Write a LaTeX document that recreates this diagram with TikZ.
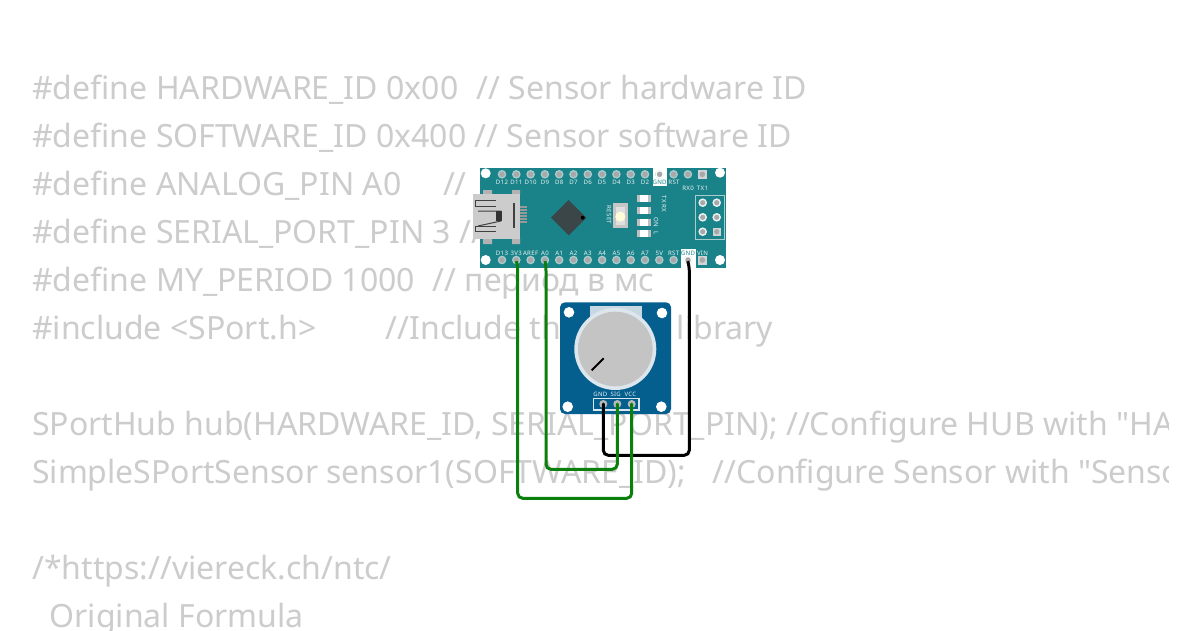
\documentclass[tikz,border=0pt]{standalone}
\usepackage{fontspec}
\setmainfont{Noto Sans}[Ligatures=TeXOff]
\newfontfamily\pinfont{Noto Sans}[LetterSpace=5,Ligatures=TeXOff]
\definecolor{codegray}{HTML}{CCCCCC}
\definecolor{nanoteal}{HTML}{1A8389}
\definecolor{potblue}{HTML}{045F8F}
\definecolor{wiregreen}{HTML}{0B7F0B}
\definecolor{pinlabel}{HTML}{EAF2F2}
\definecolor{pinring}{HTML}{A9CDCF}
\definecolor{pincore}{HTML}{A8A8A8}
\definecolor{squarepad}{HTML}{D0D4D4}
\definecolor{chipgray}{HTML}{3A4648}
\definecolor{knobring}{HTML}{DCE6EC}
\definecolor{knobtab}{HTML}{C8D8E2}
\definecolor{knobface}{HTML}{C4C4C4}
\tikzset{
 codeline/.style={anchor=base west,inner sep=0,text=codegray,font=\fontsize{32}{32}\selectfont},
 toplabel/.style={anchor=center,inner sep=0,text=pinlabel,font=\pinfont\fontsize{6.1}{6.1}\selectfont\bfseries},
 gndlabel/.style={toplabel,text=nanoteal},
 potlabel/.style={toplabel,font=\pinfont\fontsize{6}{6}\selectfont},
 hole/.style={fill=white,draw=none},
 wire/.style={line width=3pt,rounded corners=5pt,line cap=round},
 pad/.style={circle,inner sep=0,minimum size=8pt,fill=#1}
}
\begin{document}
\begin{tikzpicture}[x=1pt,y=-1pt]
\useasboundingbox (0,0) rectangle (1200,630);
\fill[white] (0,0) rectangle (1200,630);
\begin{scope}
\clip (0,0) rectangle (1168,630);
\node[codeline] (l1) at (32,99.5) {\#define HARDWARE\_ID 0x00\ \ \hspace{1.7pt}// Sensor hardware ID};
\node[codeline] (l2) at (32,147.5) {\#define SOFTWARE\_ID 0x400 // Sensor software ID};
\node[codeline] (l3) at (32,195.5) {\#define ANALOG\_PIN A0\ \ \ \ \ //};
\node[codeline] (l4) at (32,243.5) {\#define SERIAL\_PORT\_PIN 3 //};
\node[codeline] (l5) at (32,291.5) {\#define MY\_PERIOD 1000\ \ \hspace{1pt}// период в мс};
\node[codeline] (l6) at (32,339.5) {\#include <SPort.h>\ \ \ \ \ \ \ \ \hspace{3pt}//Include the SPort library};
\node[codeline] (l7) at (32,435.5) {SPortHub hub(HARDWARE\_ID, SERIAL\_PORT\_PIN); //Configure HUB with "HARDWARE\_ID"};
\node[codeline] (l8) at (32,483.5) {SimpleSPortSensor sensor1(SOFTWARE\_ID);\ \ \ \hspace{2pt}//Configure Sensor with "Sensor"};
\node[codeline] (l9) at (32,579.5) {/*https://viereck.ch/ntc/};
\node[codeline] (l10) at (49.5,627.5) {Original Formula};
\end{scope}
% nano board
\fill[nanoteal] (480,167.5) rectangle (725.5,267.5);
\foreach \p in {(485.7,173.3),(720,172.7),(485.7,260),(720,260)} \fill[hole] \p circle (5);
\fill[white] (652.7,168) rectangle (666.7,186);
\fill[white] (681,249) rectangle (695.7,267.5);
\foreach \i in {0,...,14} {
 \pgfmathsetmacro\xx{502+14.3*\i}
 \fill[pinring] (\xx,174.3) circle (4.3);
 \fill[pincore] (\xx,174.3) circle (2.8);
 \fill[pinring] (\xx,260) circle (4.3);
 \fill[pincore] (\xx,260) circle (2.8);
}
\fill[squarepad] (697.8,169.8) rectangle (706.8,178.8);
\fill[pincore] (702.3,174.3) circle (2.8);
\fill[squarepad] (697.8,255.5) rectangle (706.8,264.5);
\fill[pincore] (702.3,260) circle (2.8);
\fill[white] (659.6,174.3) circle (4.3); \fill[pincore] (659.6,174.3) circle (2.8);
\fill[white] (688,260) circle (4.3); \fill[pincore] (688,260) circle (2.8);
\foreach \t [count=\i from 0] in {D12,D11,D10,D9,D8,D7,D6,D5,D4,D3,D2} {
 \pgfmathsetmacro\xx{502+14.3*\i}
 \node[toplabel] (t\i) at (\xx,182) {\t};
}
\node[gndlabel] (tgnd) at (659.6,182) {GND};
\node[toplabel] (trst) at (674,182) {RST};
\node[toplabel] (rx) at (688,188) {RX0};
\node[toplabel] (tx) at (702.5,188) {TX1};
\foreach \t [count=\i from 0] in {D13,3V3,AREF,A0,A1,A2,A3,A4,A5,A6,A7,5V,RST} {
 \pgfmathsetmacro\xx{502+14.3*\i}
 \node[toplabel] (b\i) at (\xx,253) {\t};
}
\node[gndlabel] (bgnd) at (688,253) {GND};
\node[toplabel] (bvin) at (702.5,253) {VIN};
% USB
\fill[gray!60] (483,190) rectangle (492,194) (512,190) rectangle (520,194);
\fill[gray!60] (483,238) rectangle (492,244) (512,238) rectangle (520,244);
\fill[gray!40] (472.5,193.5) rectangle (520,238.5);
\foreach \yy in {207,210,213,216,219,222} \fill[gray!80] (520,\yy-0.8) rectangle (527,\yy+0.8);
\draw[black!75,line width=1.2pt] (514,203) -- (514,228);
\draw[black!75,line width=1pt] (495.7,200.7) -- (475.5,200.7) -- (475.5,206) -- (495.7,206);
\draw[black!75,line width=1pt] (501,211) -- (478,211) (501,221) -- (478,226);
\draw[black!75,line width=1pt] (495.7,226) -- (475.5,226) -- (475.5,231.7) -- (495.7,231.7);
\fill[black!80] (495.7,211) rectangle (501.7,221);
% chip
\fill[chipgray] (568.7,200) -- (586.4,217.7) -- (568.7,235.4) -- (551,217.7) -- cycle;
\fill[black] (582.7,217.7) circle (2);
% reset
\fill[gray!45] (613.3,203) rectangle (627.7,228);
\fill[gray!25] (616,207) rectangle (625,225);
\fill[yellow!15] (620.3,216.7) circle (5);
\node[toplabel,rotate=-90] (reset) at (609,215) {RESET};
% leds
\foreach \yy in {198.5,210,222,233} {
 \fill[gray!50] (636.7,\yy-3.5) rectangle (651,\yy+3.5);
 \fill[white] (640,\yy-3.5) rectangle (648,\yy+3.5);
}
\node[toplabel,rotate=-90] (txrx) at (664,204) {TX RX};
\node[toplabel,rotate=-90] (onl) at (656,226) {ON\ \ L};
% ICSP
\draw[pinring,line width=0.8pt] (695.7,195) rectangle (724.3,239.3);
\foreach \xx/\yy in {702.7/202.7,716.7/202.7,702.7/217.3,716.7/217.3,702.7/231.7} {
 \fill[pinlabel] (\xx,\yy) circle (4.3); \fill[pincore] (\xx,\yy) circle (2.6);
}
\fill[squarepad] (712.5,227.5) rectangle (721,236); \fill[pincore] (716.7,231.7) circle (2.6);
% potentiometer
\fill[potblue,rounded corners=5pt] (560,302.3) rectangle (671,414);
\foreach \p in {(569,312.3),(662,313),(567.7,406.7),(661.3,406.7)} \fill[hole] \p circle (5.3);
\fill[knobtab] (590,306) rectangle (641.7,318);
\fill[knobring] (615.3,349) circle (41);
\fill[knobface] (615.3,349) circle (37.3);
\draw[black,line width=2pt] (591.7,370.3) -- (603.7,358.3);
\draw[white!85!potblue,line width=1.2pt] (593.3,398.3) rectangle (639,410);
\node[potlabel] (gnd) at (600.3,394) {GND};
\node[potlabel] (sig) at (615.7,394) {SIG};
\node[potlabel] (vcc) at (630.3,394) {VCC};
\node[pad=gray!55] (pg) at (603.3,404) {};
\node[pad=gray!55] (ps) at (617.3,404) {};
\node[pad=gray!55] (pv) at (631.7,404) {};
\coordinate (n3) at (516.6,262);
\coordinate (na) at (545.2,262);
\coordinate (ng) at (688,262);
% wires
\draw[wire,black] (pg.center) -- (603.3,455.3) -- (689.3,455.3) -- (689.3,266) -- (ng);
\draw[wire,wiregreen] (ps.center) -- (617.3,469.3) -- (546,469.3) -- (546,266) -- (na);
\draw[wire,wiregreen] (pv.center) -- (631.7,498.3) -- (517.7,498.3) -- (517.7,266) -- (n3);
\end{tikzpicture}
\end{document}
